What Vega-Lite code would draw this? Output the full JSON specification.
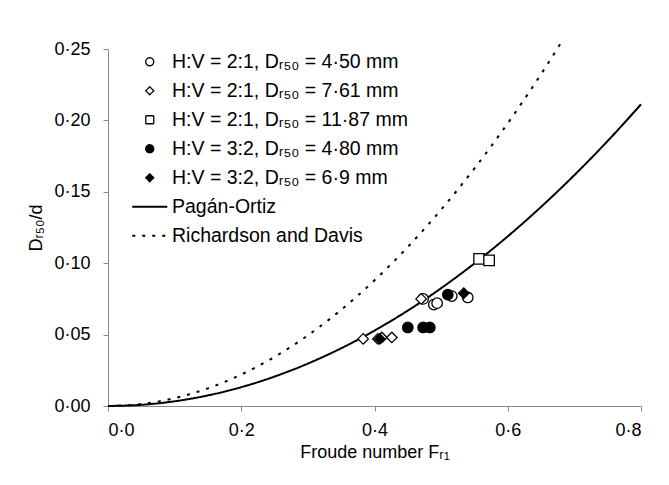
{
  "$schema": "https://vega.github.io/schema/vega-lite/v6.json",
  "autosize": {"type": "none"},
  "width": 533,
  "height": 357,
  "padding": {"left": 108, "top": 49, "right": 28, "bottom": 79},
  "background": "white",
  "config": {
    "view": {"stroke": null},
    "font": "Liberation Sans",
    "axis": {
      "grid": false,
      "domainColor": "#8a8a8a",
      "domainWidth": 1,
      "tickColor": "#8a8a8a",
      "tickSize": 5,
      "labelFont": "Liberation Sans",
      "labelFontSize": 18,
      "labelColor": "black",
      "titleFont": "Liberation Sans",
      "titleFontSize": 18,
      "titleFontWeight": "normal",
      "titleColor": "black"
    },
    "legend": {
      "orient": "none",
      "legendX": 32,
      "legendY": 3,
      "title": null,
      "labelFont": "Liberation Sans",
      "labelFontSize": 19.5,
      "labelColor": "black",
      "labelLimit": 400,
      "labelOffset": 12.5,
      "symbolSize": 100,
      "symbolStrokeColor": "black",
      "symbolStrokeWidth": 1.5,
      "rowPadding": 8
    }
  },
  "datasets": {
    "points": [
      {"fr": 0.473, "d": 0.075, "series": "H:V = 2:1, Dᵣ₅₀ = 4·50 mm"},
      {"fr": 0.489, "d": 0.071, "series": "H:V = 2:1, Dᵣ₅₀ = 4·50 mm"},
      {"fr": 0.494, "d": 0.072, "series": "H:V = 2:1, Dᵣ₅₀ = 4·50 mm"},
      {"fr": 0.516, "d": 0.077, "series": "H:V = 2:1, Dᵣ₅₀ = 4·50 mm"},
      {"fr": 0.540, "d": 0.076, "series": "H:V = 2:1, Dᵣ₅₀ = 4·50 mm"},
      {"fr": 0.383, "d": 0.047, "series": "H:V = 2:1, Dᵣ₅₀ = 7·61 mm"},
      {"fr": 0.405, "d": 0.047, "series": "H:V = 2:1, Dᵣ₅₀ = 7·61 mm"},
      {"fr": 0.411, "d": 0.048, "series": "H:V = 2:1, Dᵣ₅₀ = 7·61 mm"},
      {"fr": 0.426, "d": 0.048, "series": "H:V = 2:1, Dᵣ₅₀ = 7·61 mm"},
      {"fr": 0.470, "d": 0.075, "series": "H:V = 2:1, Dᵣ₅₀ = 7·61 mm"},
      {"fr": 0.557, "d": 0.103, "series": "H:V = 2:1, Dᵣ₅₀ = 11·87 mm"},
      {"fr": 0.572, "d": 0.102, "series": "H:V = 2:1, Dᵣ₅₀ = 11·87 mm"},
      {"fr": 0.450, "d": 0.055, "series": "H:V = 3:2, Dᵣ₅₀ = 4·80 mm"},
      {"fr": 0.473, "d": 0.055, "series": "H:V = 3:2, Dᵣ₅₀ = 4·80 mm"},
      {"fr": 0.483, "d": 0.055, "series": "H:V = 3:2, Dᵣ₅₀ = 4·80 mm"},
      {"fr": 0.510, "d": 0.078, "series": "H:V = 3:2, Dᵣ₅₀ = 4·80 mm"},
      {"fr": 0.408, "d": 0.047, "series": "H:V = 3:2, Dᵣ₅₀ = 6·9 mm"},
      {"fr": 0.534, "d": 0.079, "series": "H:V = 3:2, Dᵣ₅₀ = 6·9 mm"}
    ],
    "curves": [
      {"fr": 0.0, "d": 0.0, "series": "Pagán-Ortiz"},
      {"fr": 0.05, "d": 0.000825, "series": "Pagán-Ortiz"},
      {"fr": 0.1, "d": 0.0033, "series": "Pagán-Ortiz"},
      {"fr": 0.15, "d": 0.007425, "series": "Pagán-Ortiz"},
      {"fr": 0.2, "d": 0.0132, "series": "Pagán-Ortiz"},
      {"fr": 0.25, "d": 0.020625, "series": "Pagán-Ortiz"},
      {"fr": 0.3, "d": 0.0297, "series": "Pagán-Ortiz"},
      {"fr": 0.35, "d": 0.040425, "series": "Pagán-Ortiz"},
      {"fr": 0.4, "d": 0.0528, "series": "Pagán-Ortiz"},
      {"fr": 0.45, "d": 0.066825, "series": "Pagán-Ortiz"},
      {"fr": 0.5, "d": 0.0825, "series": "Pagán-Ortiz"},
      {"fr": 0.55, "d": 0.099825, "series": "Pagán-Ortiz"},
      {"fr": 0.6, "d": 0.1188, "series": "Pagán-Ortiz"},
      {"fr": 0.65, "d": 0.139425, "series": "Pagán-Ortiz"},
      {"fr": 0.7, "d": 0.1617, "series": "Pagán-Ortiz"},
      {"fr": 0.75, "d": 0.185625, "series": "Pagán-Ortiz"},
      {"fr": 0.8, "d": 0.2112, "series": "Pagán-Ortiz"},
      {"fr": 0.0, "d": 0.0, "series": "Richardson and Davis"},
      {"fr": 0.05, "d": 0.001375, "series": "Richardson and Davis"},
      {"fr": 0.1, "d": 0.0055, "series": "Richardson and Davis"},
      {"fr": 0.15, "d": 0.012375, "series": "Richardson and Davis"},
      {"fr": 0.2, "d": 0.022, "series": "Richardson and Davis"},
      {"fr": 0.25, "d": 0.034375, "series": "Richardson and Davis"},
      {"fr": 0.3, "d": 0.0495, "series": "Richardson and Davis"},
      {"fr": 0.35, "d": 0.067375, "series": "Richardson and Davis"},
      {"fr": 0.4, "d": 0.088, "series": "Richardson and Davis"},
      {"fr": 0.45, "d": 0.111375, "series": "Richardson and Davis"},
      {"fr": 0.5, "d": 0.1375, "series": "Richardson and Davis"},
      {"fr": 0.55, "d": 0.166375, "series": "Richardson and Davis"},
      {"fr": 0.6, "d": 0.198, "series": "Richardson and Davis"},
      {"fr": 0.65, "d": 0.232375, "series": "Richardson and Davis"},
      {"fr": 0.68, "d": 0.25432, "series": "Richardson and Davis"}
    ]
  },
  "encoding": {
    "x": {
      "field": "fr", "type": "quantitative",
      "scale": {"domain": [0, 0.8], "nice": false, "zero": false},
      "axis": {
        "values": [0, 0.2, 0.4, 0.6, 0.8],
        "labelExpr": "replace(format(datum.value, '.1f'), '.', '·')",
        "labelPadding": 10,
        "title": "Froude number Fᵣ₁",
        "titlePadding": 4
      }
    },
    "y": {
      "field": "d", "type": "quantitative",
      "scale": {"domain": [0, 0.25], "nice": false, "zero": false},
      "axis": {
        "values": [0, 0.05, 0.1, 0.15, 0.2, 0.25],
        "labelExpr": "replace(format(datum.value, '.2f'), '.', '·')",
        "labelPadding": 13,
        "title": "Dᵣ₅₀/d",
        "titlePadding": 8
      }
    }
  },
  "layer": [
    {
      "data": {"name": "curves"},
      "mark": {"type": "line", "color": "black", "strokeWidth": 2, "interpolate": "monotone", "clip": false},
      "encoding": {
        "strokeDash": {
          "field": "series", "type": "nominal",
          "scale": {
            "domain": ["H:V = 2:1, Dᵣ₅₀ = 4·50 mm", "H:V = 2:1, Dᵣ₅₀ = 7·61 mm", "H:V = 2:1, Dᵣ₅₀ = 11·87 mm", "H:V = 3:2, Dᵣ₅₀ = 4·80 mm", "H:V = 3:2, Dᵣ₅₀ = 6·9 mm", "Pagán-Ortiz", "Richardson and Davis"],
            "range": [[1, 0], [1, 0], [1, 0], [1, 0], [1, 0], [1, 0], [3, 7]]
          },
          "legend": {
            "encode": {
              "symbols": {
                "update": {
                  "size": {"signal": "indexof(['Pagán-Ortiz', 'Richardson and Davis'], datum.value) >= 0 ? 1225 : 64"},
                  "strokeWidth": {"signal": "indexof(['Pagán-Ortiz', 'Richardson and Davis'], datum.value) >= 0 ? 2 : 1.3"},
                  "stroke": {"value": "black"}
                }
              }
            }
          }
        }
      }
    },
    {
      "data": {"name": "points"},
      "mark": {"type": "point", "stroke": "black", "strokeWidth": 1.3, "opacity": 1},
      "encoding": {
        "shape": {
          "field": "series", "type": "nominal",
          "scale": {
            "domain": ["H:V = 2:1, Dᵣ₅₀ = 4·50 mm", "H:V = 2:1, Dᵣ₅₀ = 7·61 mm", "H:V = 2:1, Dᵣ₅₀ = 11·87 mm", "H:V = 3:2, Dᵣ₅₀ = 4·80 mm", "H:V = 3:2, Dᵣ₅₀ = 6·9 mm", "Pagán-Ortiz", "Richardson and Davis"],
            "range": ["circle", "diamond", "square", "circle", "diamond", "stroke", "stroke"]
          },
          "legend": {
            "encode": {
              "symbols": {
                "update": {
                  "size": {"signal": "indexof(['Pagán-Ortiz', 'Richardson and Davis'], datum.value) >= 0 ? 1225 : 64"},
                  "strokeWidth": {"signal": "indexof(['Pagán-Ortiz', 'Richardson and Davis'], datum.value) >= 0 ? 2 : 1.3"},
                  "stroke": {"value": "black"}
                }
              }
            }
          }
        },
        "fill": {
          "field": "series", "type": "nominal",
          "scale": {
            "domain": ["H:V = 2:1, Dᵣ₅₀ = 4·50 mm", "H:V = 2:1, Dᵣ₅₀ = 7·61 mm", "H:V = 2:1, Dᵣ₅₀ = 11·87 mm", "H:V = 3:2, Dᵣ₅₀ = 4·80 mm", "H:V = 3:2, Dᵣ₅₀ = 6·9 mm", "Pagán-Ortiz", "Richardson and Davis"],
            "range": ["white", "white", "white", "black", "black", "transparent", "transparent"]
          },
          "legend": {
            "encode": {
              "symbols": {
                "update": {
                  "size": {"signal": "indexof(['Pagán-Ortiz', 'Richardson and Davis'], datum.value) >= 0 ? 1225 : 64"},
                  "strokeWidth": {"signal": "indexof(['Pagán-Ortiz', 'Richardson and Davis'], datum.value) >= 0 ? 2 : 1.3"},
                  "stroke": {"value": "black"}
                }
              }
            }
          }
        },
        "size": {"value": 110}
      }
    }
  ]
}
